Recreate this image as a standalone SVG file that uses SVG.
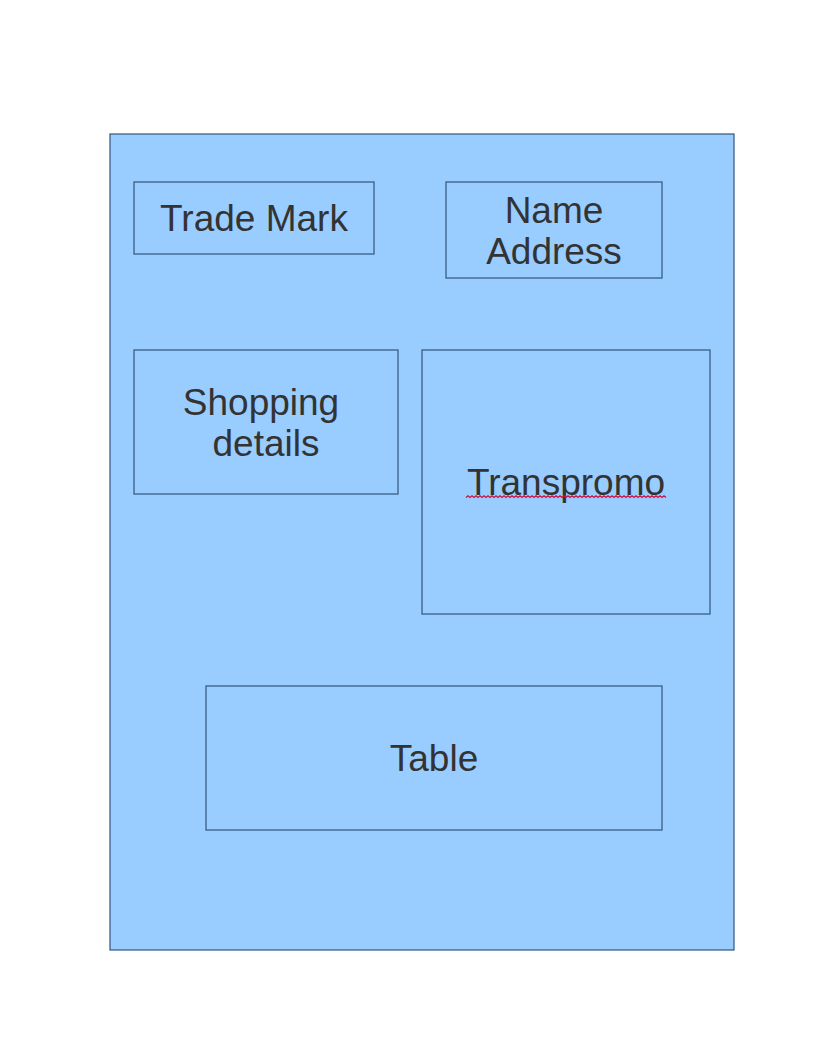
<svg xmlns="http://www.w3.org/2000/svg" width="816" height="1056" viewBox="0 0 816 1056">
<style>
.box{fill:#99ccff;stroke:#33557a;stroke-width:1.2}
.lbl{font-family:"Liberation Sans",Arial,sans-serif;font-size:37px;fill:#333333;text-anchor:middle}
.wave{fill:none;stroke:#cc1144;stroke-width:1.2}
</style>
<rect width="816" height="1056" fill="#ffffff"/>
<g id="page"><rect class="box" x="110" y="134" width="624" height="816"/></g>
<g id="trade-mark"><rect class="box" x="134" y="182" width="240" height="72"/><text class="lbl" x="254" y="231">Trade Mark</text></g>
<g id="name-address"><rect class="box" x="446" y="182" width="216" height="96"/><text class="lbl" x="554" y="223">Name</text><text class="lbl" x="554" y="264">Address</text></g>
<g id="shopping-details"><rect class="box" x="134" y="350" width="264" height="144"/><text class="lbl" x="261" y="415">Shopping</text><text class="lbl" x="266" y="456">details</text></g>
<g id="transpromo"><rect class="box" x="422" y="350" width="288" height="264"/><text class="lbl" x="566" y="495">Transpromo</text>
<path class="wave" d="M466 497.5
l2 -1.8 l2 1.8 l2 -1.8 l2 1.8 l2 -1.8 l2 1.8 l2 -1.8 l2 1.8 l2 -1.8 l2 1.8 l2 -1.8 l2 1.8 l2 -1.8 l2 1.8 l2 -1.8 l2 1.8 l2 -1.8 l2 1.8 l2 -1.8 l2 1.8
l2 -1.8 l2 1.8 l2 -1.8 l2 1.8 l2 -1.8 l2 1.8 l2 -1.8 l2 1.8 l2 -1.8 l2 1.8 l2 -1.8 l2 1.8 l2 -1.8 l2 1.8 l2 -1.8 l2 1.8 l2 -1.8 l2 1.8 l2 -1.8 l2 1.8
l2 -1.8 l2 1.8 l2 -1.8 l2 1.8 l2 -1.8 l2 1.8 l2 -1.8 l2 1.8 l2 -1.8 l2 1.8 l2 -1.8 l2 1.8 l2 -1.8 l2 1.8 l2 -1.8 l2 1.8 l2 -1.8 l2 1.8 l2 -1.8 l2 1.8
l2 -1.8 l2 1.8 l2 -1.8 l2 1.8 l2 -1.8 l2 1.8 l2 -1.8 l2 1.8 l2 -1.8 l2 1.8 l2 -1.8 l2 1.8 l2 -1.8 l2 1.8 l2 -1.8 l2 1.8 l2 -1.8 l2 1.8 l2 -1.8 l2 1.8
l2 -1.8 l2 1.8 l2 -1.8 l2 1.8 l2 -1.8 l2 1.8 l2 -1.8 l2 1.8 l2 -1.8 l2 1.8 l2 -1.8 l2 1.8 l2 -1.8 l2 1.8 l2 -1.8 l2 1.8 l2 -1.8 l2 1.8 l2 -1.8 l2 1.8"/></g>
<g id="table"><rect class="box" x="206" y="686" width="456" height="144"/><text class="lbl" x="434" y="771">Table</text></g>
<g id="connectors"/>
</svg>
